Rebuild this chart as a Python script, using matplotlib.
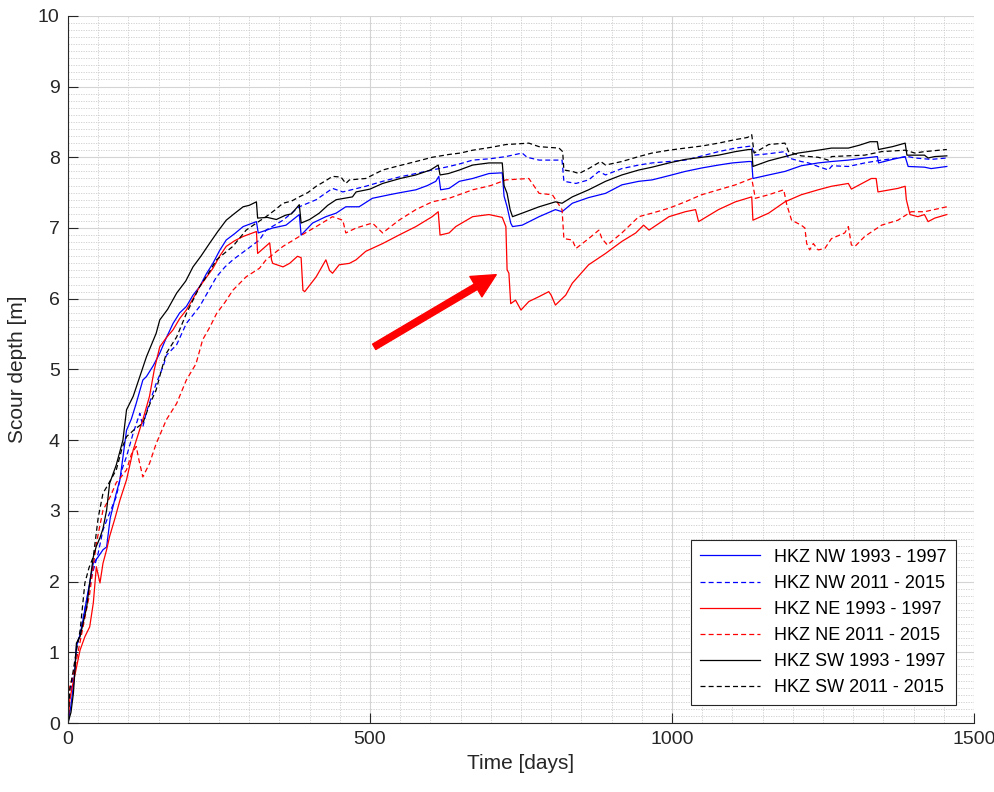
import matplotlib
matplotlib.use('Agg')
import matplotlib.pyplot as plt
from matplotlib.ticker import MultipleLocator

plt.rcParams['font.family'] = ['Liberation Sans', 'DejaVu Sans']

# HKZ NW 1993 - 1997
nw_9397_days = [0, 5, 10, 14, 20, 25, 32, 42, 50, 58, 64, 70, 80, 86, 97, 105, 113, 124, 130, 141,
                152, 163, 174, 185, 196, 207, 218, 229, 240, 251, 262, 276, 290, 312, 315, 339, 361, 383,
                386, 405, 427, 444, 460, 482, 504, 532, 550, 576, 595, 609, 614, 617, 631, 648, 670, 697,
                719, 722, 727, 733, 736, 752, 780, 807, 818, 835, 862, 890, 917, 945, 967, 995, 1022, 1050,
                1077, 1100, 1127, 1132, 1134, 1160, 1187, 1214, 1242, 1264, 1292, 1320, 1340, 1342, 1365,
                1386, 1391, 1418, 1429, 1455]
nw_9397_depth = [0, 0.25, 0.6, 1.08, 1.25, 1.46, 1.8, 2.26, 2.35, 2.45, 2.49, 2.9, 3.25, 3.44, 4.14, 4.3,
                 4.52, 4.85, 4.9, 5.05, 5.23, 5.45, 5.65, 5.8, 5.89, 6.05, 6.17, 6.35, 6.5, 6.68, 6.83, 6.92,
                 7.02, 7.09, 6.93, 7.0, 7.04, 7.19, 6.9, 7.07, 7.16, 7.21, 7.3, 7.3, 7.42, 7.47, 7.5, 7.54,
                 7.6, 7.66, 7.73, 7.54, 7.56, 7.66, 7.7, 7.77, 7.78, 7.45, 7.3, 7.07, 7.02, 7.04, 7.16, 7.26,
                 7.23, 7.35, 7.43, 7.49, 7.61, 7.66, 7.68, 7.74, 7.8, 7.85, 7.89, 7.92, 7.94, 7.94, 7.7,
                 7.75, 7.8, 7.88, 7.92, 7.94, 7.96, 7.99, 8.01, 7.92, 7.97, 8.01, 7.87, 7.86, 7.84, 7.87]

# HKZ NW 2011 - 2015
nw_1115_days = [0, 4, 10, 15, 22, 30, 40, 50, 58, 68, 80, 90, 97, 108, 119, 124, 130, 146, 158, 163,
                180, 196, 218, 232, 246, 260, 273, 295, 317, 328, 356, 383, 411, 438, 455, 493, 521, 548,
                576, 603, 631, 650, 670, 700, 725, 752, 760, 780, 818, 821, 841, 862, 879, 890, 917, 945,
                967, 995, 1022, 1050, 1077, 1105, 1132, 1136, 1160, 1187, 1193, 1214, 1226, 1242, 1259,
                1265, 1292, 1319, 1347, 1374, 1391, 1402, 1429, 1455]
nw_1115_depth = [0, 0.4, 0.75, 1.1, 1.35, 1.7, 2.1, 2.4, 2.73, 2.95, 3.2, 3.6, 3.77, 4.1, 4.38, 4.19, 4.4,
                 4.8, 5.05, 5.2, 5.35, 5.65, 5.89, 6.1, 6.31, 6.45, 6.55, 6.69, 6.83, 6.97, 7.11, 7.3, 7.4,
                 7.56, 7.51, 7.59, 7.66, 7.72, 7.77, 7.82, 7.87, 7.91, 7.96, 7.98, 8.01, 8.06, 8.0, 7.96,
                 7.96, 7.66, 7.63, 7.68, 7.8, 7.75, 7.84, 7.89, 7.92, 7.94, 7.96, 8.02, 8.08, 8.13, 8.16,
                 8.03, 8.05, 8.08, 7.99, 7.94, 7.92, 7.87, 7.82, 7.88, 7.87, 7.92, 7.96, 7.99, 8.01, 7.99,
                 7.97, 7.99]

# HKZ NE 1993 - 1997
ne_9397_days = [0, 3, 8, 12, 20, 28, 36, 42, 47, 53, 58, 64, 69, 78, 86, 97, 108, 124, 135, 143, 152,
                163, 174, 185, 196, 207, 218, 229, 240, 251, 262, 276, 290, 312, 314, 334, 337, 339, 356,
                367, 380, 386, 389, 392, 411, 427, 433, 438, 449, 466, 477, 493, 521, 548, 576, 603, 613,
                616, 631, 642, 670, 697, 719, 725, 727, 730, 733, 741, 750, 763, 780, 796, 800, 807, 824,
                835, 862, 890, 917, 940, 953, 962, 995, 1022, 1039, 1044, 1077, 1105, 1132, 1134, 1160,
                1187, 1214, 1242, 1264, 1292, 1297, 1330, 1338, 1341, 1374, 1386, 1388, 1394, 1407, 1418,
                1424, 1435, 1455]
ne_9397_depth = [0, 0.33, 0.55, 0.7, 1.03, 1.22, 1.36, 1.7, 2.21, 1.98, 2.26, 2.45, 2.64, 2.9, 3.15,
                 3.44, 3.86, 4.29, 4.62, 5.0, 5.32, 5.45, 5.56, 5.72, 5.84, 6.0, 6.17, 6.3, 6.43, 6.6,
                 6.74, 6.82, 6.88, 6.95, 6.64, 6.79, 6.55, 6.5, 6.45, 6.5, 6.6, 6.58, 6.12, 6.1, 6.31,
                 6.55, 6.4, 6.36, 6.48, 6.5, 6.55, 6.67, 6.78, 6.9, 7.02, 7.16, 7.23, 6.9, 6.93, 7.02,
                 7.16, 7.19, 7.15, 7.02, 6.41, 6.36, 5.93, 5.98, 5.84, 5.96, 6.03, 6.1, 6.05, 5.91, 6.05,
                 6.22, 6.48, 6.64, 6.81, 6.93, 7.04, 6.97, 7.16, 7.23, 7.26, 7.09, 7.26, 7.37, 7.44, 7.11,
                 7.21, 7.37, 7.47, 7.54, 7.59, 7.63, 7.55, 7.7, 7.7, 7.51, 7.56, 7.59, 7.4, 7.19, 7.16,
                 7.19, 7.09, 7.14, 7.19]

# HKZ NE 2011 - 2015
ne_1115_days = [0, 3, 12, 25, 36, 47, 58, 70, 80, 90, 97, 105, 113, 118, 124, 135, 146, 163, 180, 196,
                212, 223, 235, 246, 260, 273, 295, 317, 328, 356, 383, 411, 438, 455, 460, 477, 504, 521,
                548, 576, 603, 631, 670, 700, 725, 763, 780, 802, 818, 821, 835, 841, 862, 879, 884, 893,
                917, 945, 967, 995, 1022, 1049, 1077, 1105, 1132, 1138, 1160, 1185, 1190, 1198, 1214, 1220,
                1223, 1228, 1234, 1242, 1253, 1264, 1286, 1292, 1297, 1303, 1319, 1347, 1374, 1396, 1418,
                1455]
ne_1115_depth = [0, 0.51, 0.8, 1.36, 1.83, 2.54, 3.01, 3.2, 3.4, 3.5, 3.58, 3.8, 3.91, 3.7, 3.48, 3.67,
                 3.95, 4.29, 4.52, 4.85, 5.08, 5.42, 5.6, 5.79, 5.95, 6.12, 6.31, 6.43, 6.55, 6.74, 6.88,
                 7.02, 7.16, 7.11, 6.93, 7.0, 7.07, 6.93, 7.11, 7.26, 7.37, 7.42, 7.54, 7.6, 7.68, 7.7,
                 7.49, 7.47, 7.26, 6.85, 6.83, 6.71, 6.85, 6.97, 6.85, 6.76, 6.93, 7.16, 7.21, 7.28, 7.37,
                 7.47, 7.54, 7.61, 7.7, 7.42, 7.47, 7.54, 7.33, 7.11, 7.04, 7.0, 6.78, 6.69, 6.78, 6.69,
                 6.71, 6.85, 6.93, 7.02, 6.76, 6.74, 6.88, 7.04, 7.11, 7.23, 7.23, 7.3]

# HKZ SW 1993 - 1997
sw_9397_days = [0, 5, 9, 12, 14, 20, 25, 31, 36, 42, 47, 53, 58, 64, 69, 80, 91, 97, 108, 119, 130, 146,
                152, 165, 180, 195, 207, 220, 235, 248, 262, 275, 290, 300, 312, 314, 330, 345, 360, 370,
                383, 386, 400, 416, 430, 444, 471, 477, 500, 521, 550, 576, 600, 613, 616, 630, 648, 670,
                697, 719, 722, 727, 732, 736, 752, 780, 807, 818, 835, 862, 890, 917, 945, 967, 995, 1022,
                1050, 1077, 1105, 1127, 1132, 1134, 1160, 1187, 1209, 1242, 1264, 1292, 1310, 1328, 1340,
                1342, 1365, 1386, 1389, 1418, 1424, 1435, 1455]
sw_9397_depth = [0, 0.15, 0.42, 0.8, 1.13, 1.22, 1.41, 1.64, 1.98, 2.35, 2.5, 2.62, 2.75, 3.01, 3.39,
                 3.65, 4.0, 4.43, 4.62, 4.9, 5.18, 5.51, 5.7, 5.85, 6.08, 6.25, 6.45, 6.6, 6.79, 6.95,
                 7.11, 7.2, 7.3, 7.32, 7.37, 7.14, 7.15, 7.12, 7.18, 7.2, 7.33, 7.07, 7.12, 7.21, 7.32,
                 7.4, 7.44, 7.51, 7.55, 7.63, 7.7, 7.75, 7.82, 7.89, 7.75, 7.77, 7.82, 7.89, 7.92, 7.92,
                 7.6, 7.49, 7.26, 7.16, 7.21, 7.3, 7.37, 7.35, 7.44, 7.54, 7.66, 7.75, 7.82, 7.86, 7.92,
                 7.97, 8.0, 8.03, 8.08, 8.11, 8.11, 7.87, 7.95, 8.01, 8.06, 8.1, 8.13, 8.13, 8.17, 8.22,
                 8.22, 8.11, 8.15, 8.2, 8.03, 8.03, 7.99, 8.01, 8.02]

# HKZ SW 2011 - 2015
sw_1115_days = [0, 3, 8, 14, 20, 28, 35, 42, 50, 58, 65, 80, 90, 97, 110, 124, 135, 146, 155, 163, 180,
                196, 218, 232, 246, 260, 273, 295, 312, 328, 342, 356, 370, 383, 397, 411, 425, 438, 452,
                460, 466, 493, 507, 521, 548, 576, 603, 631, 650, 670, 700, 725, 745, 763, 780, 813, 819,
                821, 835, 846, 862, 882, 890, 917, 945, 967, 995, 1022, 1050, 1077, 1105, 1125, 1132, 1136,
                1160, 1187, 1193, 1214, 1242, 1259, 1264, 1290, 1319, 1347, 1386, 1402, 1418, 1455]
sw_1115_depth = [0, 0.47, 0.7, 1.03, 1.3, 1.98, 2.2, 2.35, 2.9, 3.25, 3.35, 3.58, 3.9, 4.05, 4.15, 4.24,
                 4.5, 4.71, 5.0, 5.23, 5.46, 5.79, 6.17, 6.35, 6.55, 6.65, 6.74, 6.97, 7.07, 7.16, 7.25,
                 7.35, 7.38, 7.44, 7.5, 7.59, 7.66, 7.73, 7.72, 7.63, 7.68, 7.7, 7.76, 7.82, 7.88, 7.94,
                 8.0, 8.04, 8.06, 8.1, 8.14, 8.18, 8.19, 8.2, 8.15, 8.13, 8.08, 7.82, 7.8, 7.77, 7.84,
                 7.94, 7.89, 7.94, 8.01, 8.06, 8.1, 8.13, 8.16, 8.2, 8.25, 8.28, 8.32, 8.06, 8.18, 8.2,
                 8.08, 8.02, 8.0, 7.96, 8.01, 8.02, 8.03, 8.08, 8.1, 8.06, 8.08, 8.11]

series = [
    (nw_9397_days, nw_9397_depth, 'HKZ NW 1993 - 1997', 'blue', '-'),
    (nw_1115_days, nw_1115_depth, 'HKZ NW 2011 - 2015', 'blue', '--'),
    (ne_9397_days, ne_9397_depth, 'HKZ NE 1993 - 1997', 'red', '-'),
    (ne_1115_days, ne_1115_depth, 'HKZ NE 2011 - 2015', 'red', '--'),
    (sw_9397_days, sw_9397_depth, 'HKZ SW 1993 - 1997', 'black', '-'),
    (sw_1115_days, sw_1115_depth, 'HKZ SW 2011 - 2015', 'black', '--'),
]

fig = plt.figure(figsize=(9.95, 7.92), dpi=100)
ax = fig.add_axes([0.0683, 0.0871, 0.9106, 0.8929])

for days, depth, label, color, ls in series:
    line, = ax.plot(days, depth, color=color, linestyle=ls, linewidth=0.9, label=label)
    if ls == '--':
        line.set_dashes((4, 2.5))

ax.set_xlim(0, 1500)
ax.set_ylim(0, 10)
ax.xaxis.set_major_locator(MultipleLocator(500))
ax.xaxis.set_minor_locator(MultipleLocator(50))
ax.yaxis.set_major_locator(MultipleLocator(1))
ax.yaxis.set_minor_locator(MultipleLocator(0.1))
ax.grid(which='major', color='#d4d4d4', linewidth=0.8, linestyle='-')
ax.grid(which='minor', color='#cccccc', linewidth=0.6, linestyle=(0, (1.5, 1.5)))
ax.set_axisbelow(True)

ax.tick_params(which='major', direction='in', length=7, width=0.8, colors='#262626',
               labelsize=14, pad=6)
ax.tick_params(which='minor', length=0)
for side in ('top', 'right'):
    ax.spines[side].set_visible(False)
for side in ('left', 'bottom'):
    ax.spines[side].set_color('#262626')
    ax.spines[side].set_linewidth(0.8)

ax.set_xlabel('Time [days]', fontsize=15, color='#262626')
ax.set_ylabel('Scour depth [m]', fontsize=15, color='#262626', labelpad=8)

# red arrow pointing at the drop around day 730
ax.annotate('', xy=(709, 6.34), xytext=(507, 5.32),
            arrowprops=dict(facecolor='red', edgecolor='red', width=4.5, headwidth=17, headlength=17))

leg = ax.legend(loc='lower right', fontsize=13, frameon=True, fancybox=False, framealpha=1,
                edgecolor='#262626', handlelength=3.3, borderaxespad=1.0, labelspacing=0.5,
                borderpad=0.5)
leg.get_frame().set_linewidth(0.8)

fig.savefig('out.png', dpi=100)
